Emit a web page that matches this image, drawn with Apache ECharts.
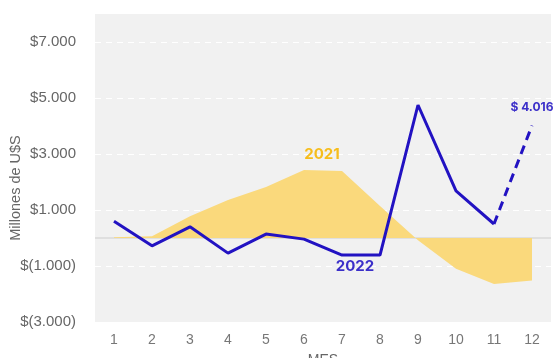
<!DOCTYPE html>
<html>
	<head>
		<meta charset="UTF-8">
		<title></title>
		<script src="https://cdn.jsdelivr.net/npm/echarts@6/dist/echarts.min.js" type="text/javascript" charset="utf-8"></script>
		<style>
			html, body { margin: 0; padding: 0; background: #fff; }
		</style>
	</head>
	<body>
		<div id="chart" style="width:558px;height:358px;"></div>
	</body>
	<script type="text/javascript">
        // datos
        var meses = ['1', '2', '3', '4', '5', '6', '7', '8', '9', '10', '11', '12'];
        var valores2021 = [30, 60, 780, 1360, 1820, 2430, 2390, 1140, -80, -1100, -1640, -1520];
        var valores2022 = [600, -280, 400, -540, 140, -40, -610, -610, 4750, 1680, 500];
        var proyeccion2022 = [500, 4016]; // mes 11 -> mes 12
        var yTicks = [-3000, -1000, 1000, 3000, 5000, 7000];

        var azul = '#2212c2';
        var amarillo = '#fad97c';

        function fmt(v) {
            var s = Math.abs(v).toString().replace(/\B(?=(\d{3})+(?!\d))/g, '.');
            return v < 0 ? '$(' + s + ')' : '$' + s;
        }

        var data2021 = valores2021.map(function (v, i) {
            if (i === 5) {
                return { value: v, label: { show: true, position: 'top', offset: [18, -2], formatter: '2021',
                    color: '#f6bd1c', fontSize: 15, fontWeight: 'bold', fontFamily: 'Inter' } };
            }
            return v;
        });
        var data2022 = meses.map(function (m, i) {
            var v = i < valores2022.length ? valores2022[i] : '-';
            if (i === 6) {
                return { value: v, label: { show: true, position: 'bottom', offset: [13, -2], formatter: '2022',
                    color: '#3b2fc9', fontSize: 15, fontWeight: 'bold', fontFamily: 'Inter' } };
            }
            return v;
        });
        var dataProy = meses.map(function (m, i) {
            if (i === 10) return proyeccion2022[0];
            if (i === 11) {
                return { value: proyeccion2022[1], label: { show: true, position: 'top', distance: 11,
                    formatter: '$ 4.016', color: '#3b2fc9', fontSize: 12, fontWeight: 'bold', fontFamily: 'Inter' } };
            }
            return '-';
        });

        // simbolos transparentes: solo sirven para colgar las etiquetas
        var sinSimbolo = {
            symbol: 'circle', symbolSize: 2, showSymbol: true,
            itemStyle: { color: 'rgba(0,0,0,0)', borderWidth: 0 }
        };

        var chart = echarts.init(document.getElementById('chart'), null, { renderer: 'canvas' });
        chart.setOption({
            animation: false,
            grid: {
                left: 95, right: 7, top: 14, bottom: 36,
                containLabel: false,
                outerBoundsMode: 'none',
                show: true, backgroundColor: '#f1f1f1', borderWidth: 0
            },
            xAxis: {
                type: 'category',
                data: meses,
                boundaryGap: true,
                name: 'MES',
                nameLocation: 'middle',
                nameGap: 31,
                nameMoveOverlap: false,
                nameTextStyle: { color: '#666', fontSize: 14, fontFamily: 'Liberation Sans' },
                axisLine: { show: false },
                axisTick: { show: false },
                axisLabel: { color: '#777', fontSize: 14, margin: 11, fontFamily: 'Liberation Sans' }
            },
            yAxis: {
                type: 'value',
                min: -3000,
                max: 8000,
                interval: 1000,
                name: 'Millones de U$S',
                nameLocation: 'middle',
                nameGap: 72,
                nameMoveOverlap: false,
                nameTextStyle: { color: '#666', fontSize: 14.5, fontFamily: 'Liberation Sans', padding: [0, 0, 0, -40] },
                axisLine: { show: false },
                axisTick: { show: false },
                axisLabel: {
                    color: '#666', fontSize: 15, margin: 19, fontFamily: 'Liberation Sans',
                    formatter: function (v) { return yTicks.indexOf(v) >= 0 ? fmt(v) : ''; }
                },
                splitLine: { show: false }
            },
            series: [
                Object.assign({
                    name: '2021',
                    type: 'line',
                    data: data2021,
                    lineStyle: { width: 0 },
                    areaStyle: { color: amarillo, opacity: 1 },
                    z: 1,
                    markLine: {
                        silent: true,
                        symbol: 'none',
                        label: { show: false },
                        z: 0,
                        data: yTicks.map(function (t) {
                            return { yAxis: t, lineStyle: { color: '#ffffff', type: [6, 5], width: 1.2 } };
                        }).concat([{ yAxis: 0, lineStyle: { color: '#d8d8d8', type: 'solid', width: 1.5 } }])
                    }
                }, sinSimbolo),
                Object.assign({
                    name: '2022',
                    type: 'line',
                    data: data2022,
                    lineStyle: { color: azul, width: 3 },
                    z: 3
                }, sinSimbolo),
                Object.assign({
                    name: 'proyeccion',
                    type: 'line',
                    data: dataProy,
                    lineStyle: { color: azul, width: 3, type: [9, 6] },
                    z: 3
                }, sinSimbolo)
            ]
        });
	</script>
</html>
